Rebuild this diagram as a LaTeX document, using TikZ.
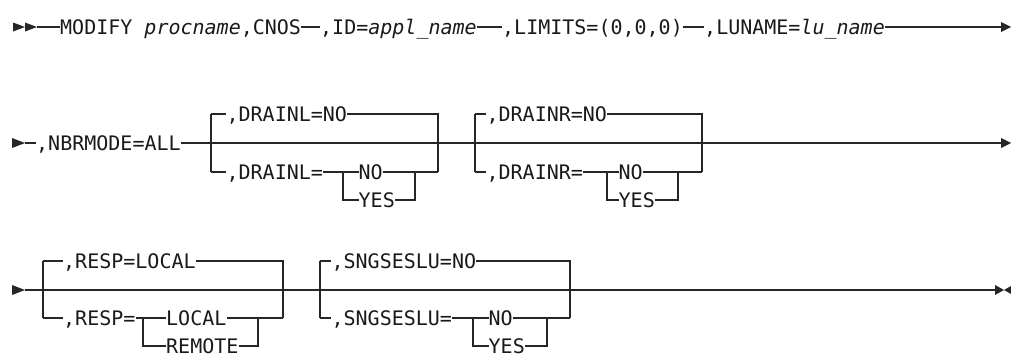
\documentclass[tikz,border=0pt]{standalone}
\usepackage{fontspec}
\newfontfamily\railfont{DejaVu Sans Mono}[ItalicFont={DejaVu Sans Mono Oblique}]
\usetikzlibrary{calc}

\tikzset{
  rail/.style={line width=1.1pt, draw=black!85},
  railbold/.style={line width=2.4pt, draw=black!85},
  tok/.style={font=\railfont\fontsize{20}{20}\selectfont, text=black!90,
    inner sep=0pt, text height=14pt, text depth=0pt, anchor=west},
  tip/.style={fill=black!85}
}

\begin{document}
\begin{tikzpicture}[x=1pt,y=-1pt]
\useasboundingbox (0,0) rectangle (1011,356);

% row 1
\fill[tip] (13,22.5) -- (25,27) -- (13,31.5) -- cycle;
\fill[tip] (25,22.5) -- (37,27) -- (25,31.5) -- cycle;
\coordinate (ra) at (37,27);
\node[tok] (modify) at (60,27) {MODIFY \textit{procname},CNOS};
\node[tok] (id) at (320,27) {,ID=\textit{appl\_name}};
\node[tok] (limits) at (502,27) {,LIMITS=(0,0,0)};
\node[tok] (luname) at (704,27) {,LUNAME=\textit{lu\_name}};
\coordinate (rae) at (1001,27);
\fill[tip] (1001,22) -- (1011,27) -- (1001,32) -- cycle;
\draw[rail] (ra) -- (modify.west);
\draw[rail] (modify.east) -- (id.west);
\draw[rail] (id.east) -- (limits.west);
\draw[rail] (limits.east) -- (luname.west);
\draw[rail] (luname.east) -- (rae);

% row 2
\fill[tip] (12,138) -- (25,143) -- (12,148) -- cycle;
\coordinate (rb) at (25,143);
\node[tok] (nbr) at (36,143) {,NBRMODE=ALL};
\coordinate (rbe) at (1001,143);
\fill[tip] (1001,138) -- (1011,143) -- (1001,148) -- cycle;
\draw[rail] (rb) -- (nbr.west);
\draw[rail] (nbr.east) -- (rbe);

\coordinate (dla) at (211,114);
\coordinate (dlb) at (211,172);
\coordinate (dlc) at (438,114);
\coordinate (dld) at (438,172);
\node[tok] (dlno) at (226.4,114) {,DRAINL=NO};
\node[tok] (dl) at (226.4,172) {,DRAINL=};
\node[tok] (dlyn) at (358.5,172) {NO};
\node[tok] (dlyy) at (358.5,200) {YES};
\coordinate (dli) at (343,172);
\coordinate (dlj) at (343,200);
\coordinate (dlk) at (415,172);
\coordinate (dll) at (415,200);
\draw[rail] (dla) -- (dlb);
\draw[rail] (dla) -- (dlno.west);
\draw[rail] (dlno.east) -- (dlc) -- (dld);
\draw[rail] (dlb) -- (dl.west);
\draw[rail] (dl.east) -- (dlyn.west);
\draw[rail] (dli) -- (dlj) -- (dlyy.west);
\draw[rail] (dlyn.east) -- (dlk) -- (dll) -- (dlyy.east);
\draw[rail] (dlk) -- (dld);

\coordinate (dra) at (475,114);
\coordinate (drb) at (475,172);
\coordinate (drc) at (702,114);
\coordinate (drd) at (702,172);
\node[tok] (drno) at (486.4,114) {,DRAINR=NO};
\node[tok] (dr) at (486.4,172) {,DRAINR=};
\node[tok] (dryn) at (618.5,172) {NO};
\node[tok] (dryy) at (618.5,200) {YES};
\coordinate (dri) at (607,172);
\coordinate (drj) at (607,200);
\coordinate (drk) at (678,172);
\coordinate (drl) at (678,200);
\draw[rail] (dra) -- (drb);
\draw[rail] (dra) -- (drno.west);
\draw[rail] (drno.east) -- (drc) -- (drd);
\draw[rail] (drb) -- (dr.west);
\draw[rail] (dr.east) -- (dryn.west);
\draw[rail] (dri) -- (drj) -- (dryy.west);
\draw[rail] (dryn.east) -- (drk) -- (drl) -- (dryy.east);
\draw[rail] (drk) -- (drd);

% row 3
\fill[tip] (12,285) -- (25,290) -- (12,295) -- cycle;
\coordinate (rc) at (25,290);
\coordinate (rcm) at (577,290);
\coordinate (rcn) at (600,290);
\coordinate (rce) at (995,290);
\fill[tip] (995,285) -- (1004,290) -- (995,295) -- cycle;
\fill[tip] (1011,286) -- (1004,290) -- (1011,294) -- cycle;
\draw[rail] (rc) -- (rce);
\draw[railbold] (rcm) -- (rcn);

\coordinate (rsa) at (43,261);
\coordinate (rsb) at (43,318);
\coordinate (rsc) at (283,261);
\coordinate (rsd) at (283,318);
\node[tok] (rsloc) at (63,261) {,RESP=LOCAL};
\node[tok] (rs) at (63,318) {,RESP=};
\node[tok] (rsl) at (166,318) {LOCAL};
\node[tok] (rsr) at (166,346) {REMOTE};
\coordinate (rsi) at (143,318);
\coordinate (rsj) at (143,346);
\coordinate (rsk) at (258,318);
\coordinate (rsl2) at (258,346);
\draw[rail] (rsa) -- (rsb);
\draw[rail] (rsa) -- (rsloc.west);
\draw[rail] (rsloc.east) -- (rsc) -- (rsd);
\draw[rail] (rsb) -- (rs.west);
\draw[rail] (rs.east) -- (rsl.west);
\draw[rail] (rsi) -- (rsj) -- (rsr.west);
\draw[rail] (rsl.east) -- (rsk) -- (rsl2) -- (rsr.east);
\draw[rail] (rsk) -- (rsd);

\coordinate (ssa) at (320,261);
\coordinate (ssb) at (320,318);
\coordinate (ssc) at (570,261);
\coordinate (ssd) at (570,318);
\node[tok] (ssno) at (331.4,261) {,SNGSESLU=NO};
\node[tok] (ss) at (331.4,318) {,SNGSESLU=};
\node[tok] (ssyn) at (488.5,318) {NO};
\node[tok] (ssyy) at (488.5,346) {YES};
\coordinate (ssi) at (473,318);
\coordinate (ssj) at (473,346);
\coordinate (ssk) at (547,318);
\coordinate (ssl) at (547,346);
\draw[rail] (ssa) -- (ssb);
\draw[rail] (ssa) -- (ssno.west);
\draw[rail] (ssno.east) -- (ssc) -- (ssd);
\draw[rail] (ssb) -- (ss.west);
\draw[rail] (ss.east) -- (ssyn.west);
\draw[rail] (ssi) -- (ssj) -- (ssyy.west);
\draw[rail] (ssyn.east) -- (ssk) -- (ssl) -- (ssyy.east);
\draw[rail] (ssk) -- (ssd);
\end{tikzpicture}
\end{document}
